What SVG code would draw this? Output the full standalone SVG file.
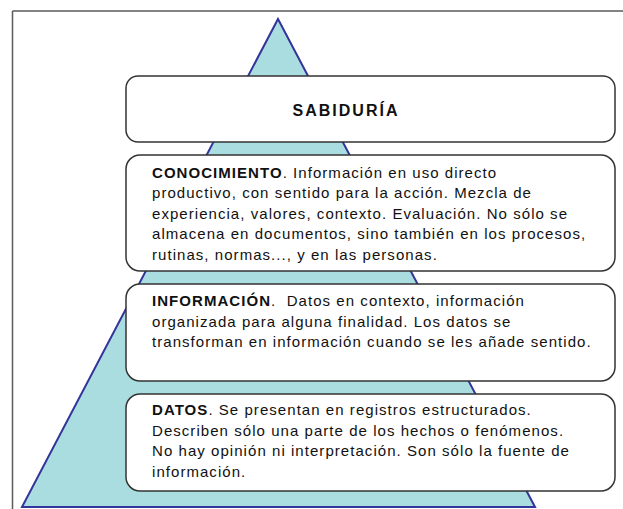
<svg xmlns="http://www.w3.org/2000/svg" width="623" height="509" viewBox="0 0 623 509">
<style>
.frame{stroke:#5a5a5a;stroke-width:1.5;fill:none}
.pyr{fill:#aadde0;stroke:#34349a;stroke-width:2;stroke-linejoin:miter}
.box{fill:#ffffff;stroke:#333333;stroke-width:1.5}
text{font-family:"Liberation Sans",Arial,sans-serif;font-size:15px;fill:#111111;letter-spacing:1.05px}
.b{font-weight:bold}
.title{font-size:16px;font-weight:bold;letter-spacing:2px}
</style>
<rect width="623" height="509" fill="#ffffff"/>
<g id="frame">
<line class="frame" x1="12.5" y1="11" x2="623" y2="11"/>
<line class="frame" x1="12.5" y1="11" x2="12.5" y2="509"/>
</g>
<g id="pyramid">
<polygon class="pyr" points="278,19 535,507 22,507"/>
</g>
<g id="sabiduria">
<rect class="box" x="126" y="76" width="489" height="66" rx="12" ry="12"/>
<text class="title" x="346" y="116" text-anchor="middle">SABIDURÍA</text>
</g>
<g id="conocimiento">
<rect class="box" x="126" y="155" width="489" height="116" rx="14" ry="14"/>
<text x="152" y="177.5"><tspan class="b">CONOCIMIENTO</tspan>. Información en uso directo</text>
<text x="152" y="198">productivo, con sentido para la acción. Mezcla de</text>
<text x="152" y="218.7">experiencia, valores, contexto. Evaluación. No sólo se</text>
<text x="152" y="239.3">almacena en documentos, sino también en los procesos,</text>
<text x="152" y="260">rutinas, normas..., y en las personas.</text>
</g>
<g id="informacion">
<rect class="box" x="126" y="284" width="489" height="97" rx="14" ry="14"/>
<text x="152" y="306" xml:space="preserve"><tspan class="b">INFORMACIÓN</tspan>.  Datos en contexto, información</text>
<text x="152" y="326.5">organizada para alguna finalidad. Los datos se</text>
<text x="152" y="347">transforman en información cuando se les añade sentido.</text>
</g>
<g id="datos">
<rect class="box" x="126" y="394" width="489" height="97" rx="14" ry="14"/>
<text x="152" y="415"><tspan class="b">DATOS</tspan>. Se presentan en registros estructurados.</text>
<text x="152" y="435.7">Describen sólo una parte de los hechos o fenómenos.</text>
<text x="152" y="456.3">No hay opinión ni interpretación. Son sólo la fuente de</text>
<text x="152" y="477">información.</text>
</g>
</svg>
